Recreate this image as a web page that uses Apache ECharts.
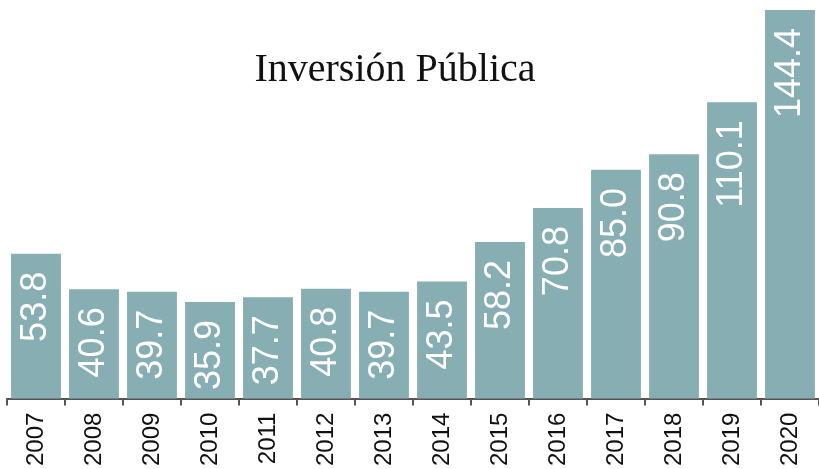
<!DOCTYPE html>
<html><head><meta charset="utf-8">
<script src="https://cdn.jsdelivr.net/npm/echarts@6/dist/echarts.min.js"></script>
<style>html,body{margin:0;padding:0;background:#fff}#c{width:819px;height:469px}</style>
</head><body><div id="c"></div>
<script>
const years = ['2007','2008','2009','2010','2011','2012','2013','2014','2015','2016','2017','2018','2019','2020'];
const values = [53.8, 40.6, 39.7, 35.9, 37.7, 40.8, 39.7, 43.5, 58.2, 70.8, 85.0, 90.8, 110.1, 144.4];
const titleText = 'Inversión Pública';

const chart = echarts.init(document.getElementById('c'), null, {renderer: 'canvas'});
chart.setOption({
  animation: false,
  title: {
    text: titleText, left: 390, top: 45, textAlign: 'center',
    textStyle: {fontFamily: 'Liberation Serif', fontWeight: 'normal', fontSize: 40, color: '#111'}
  },
  grid: {left: 7, right: 0, top: 10, bottom: 70, containLabel: false},
  xAxis: {
    type: 'category', data: years, boundaryGap: true,
    axisLine: {lineStyle: {color: '#555', width: 2}},
    axisTick: {show: true, length: 7, lineStyle: {color: '#555', width: 2}},
    axisLabel: {rotate: 90, margin: 14, fontFamily: 'Liberation Sans', fontSize: 24, color: '#111', interval: 0}
  },
  yAxis: {type: 'value', min: 0, max: 144.4, show: false, splitLine: {show: false}},
  series: [{
    type: 'bar', data: values, barCategoryGap: '14%',
    itemStyle: {color: '#87afb3'},
    label: {
      show: true, position: 'insideTop', rotate: 90, distance: 18,
      align: 'right', verticalAlign: 'middle',
      formatter: p => p.value.toFixed(1),
      fontFamily: 'Liberation Sans', fontSize: 36, color: '#fff'
    }
  }]
});
</script></body></html>
